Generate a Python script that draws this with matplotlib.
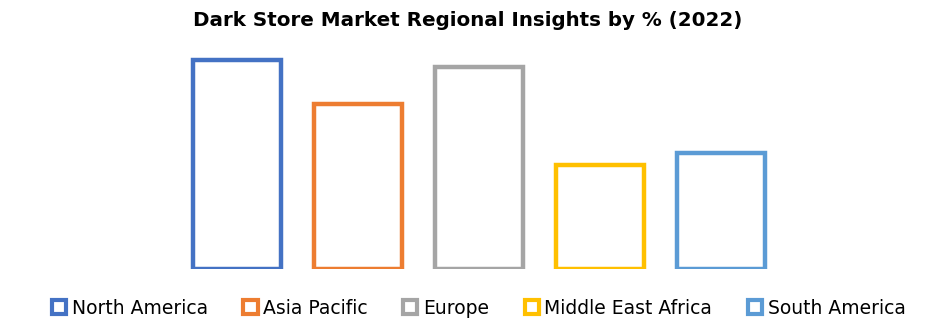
import matplotlib.pyplot as plt
from matplotlib.patches import Patch

regions = ['North America', 'Asia Pacific', 'Europe', 'Middle East Africa',
           'South America']
share = [26.0, 20.5, 25.1, 12.9, 14.4]
colors = ['#4472C4', '#ED7D31', '#A5A5A5', '#FFC000', '#5B9BD5']

fig = plt.figure(figsize=(9.35, 3.25), dpi=100)
ax = fig.add_axes([176.5/935, 1 - 269/325, 605/935, 241/325])

x = range(len(regions))
ax.bar(x, share, width=0.72, facecolor='white', edgecolor=colors,
       linewidth=3.2)
ax.set_xlim(-0.5, len(regions) - 0.5)
ax.set_ylim(0, 30)
ax.axis('off')

fig.text(0.5, 1 - 20/325, 'Dark Store Market Regional Insights by % (2022)',
         ha='center', va='center', fontsize=14.3, fontweight='bold')

handles = [Patch(facecolor='white', edgecolor=c, linewidth=3)
           for c in colors]
fig.legend(handles, regions, loc='center', bbox_to_anchor=(0.512, 1 - 308/325),
           ncol=5, frameon=False, fontsize=13.5, handlelength=0.75,
           handleheight=0.75, handletextpad=0.3, columnspacing=1.9)

fig.savefig('out.png', dpi=100)
